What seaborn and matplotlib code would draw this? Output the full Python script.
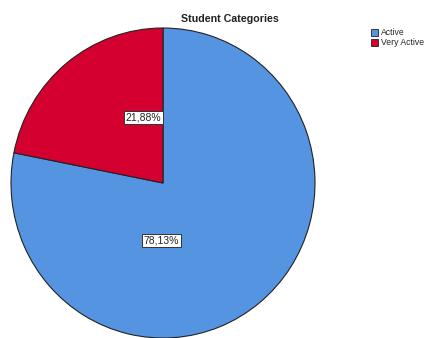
import matplotlib
matplotlib.use("Agg")
import matplotlib.pyplot as plt
import seaborn as sns

sns.set_style("white")
plt.rcParams['font.family'] = ['Liberation Sans', 'DejaVu Sans']

categories = ["Active", "Very Active"]
values = [78.13, 21.88]
colors = ["#5594E0", "#D4002F"]
label_pos = [(-0.01, -0.37), (-0.13, 0.42)]

fig = plt.figure(figsize=(4.24, 3.38), dpi=100)
ax = fig.add_axes([11/424, 0/338, 304/424, 310/338])
wedges, _ = ax.pie(values, colors=colors, startangle=90, counterclock=False,
                   wedgeprops=dict(edgecolor="#222222", linewidth=0.8))
ax.set_aspect("auto")
ax.set_xlim(-1.0, 1.0)
ax.set_ylim(-1.0, 1.0)
ax.axis("off")

for v, (x, y) in zip(values, label_pos):
    ax.text(x, y, f"{v:.2f}%".replace(".", ","), ha="center", va="center",
            fontsize=7.5, color="#222222",
            bbox=dict(boxstyle="square,pad=0.15", fc="white", ec="#333333", lw=0.7))

fig.text(0.542, 0.945, "Student Categories", ha="center", va="center",
         fontsize=7.7, fontweight="bold", color="#222222")

leg = fig.legend(wedges, categories, loc="upper left", bbox_to_anchor=(0.876, 0.917),
                 frameon=False, fontsize=6.2, handlelength=0.8, handleheight=0.9,
                 handletextpad=0.3, labelspacing=0.15, borderpad=0, borderaxespad=0)
for h in leg.legend_handles:
    h.set_linewidth(0.6)

fig.savefig("out.png", dpi=100)
